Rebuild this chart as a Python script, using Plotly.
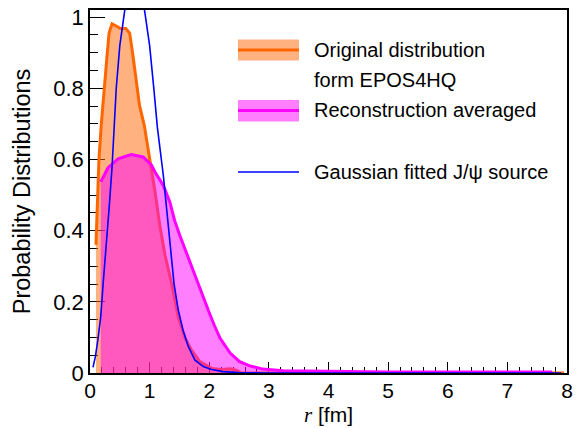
import plotly.graph_objects as go

# Original distribution from EPOS4HQ
r_orig = [0.10, 0.12, 0.15, 0.19, 0.235, 0.285, 0.32, 0.37, 0.44, 0.51, 0.60, 0.665, 0.72, 0.78, 0.83,
          0.91, 1.005, 1.09, 1.17, 1.26, 1.37, 1.48, 1.59, 1.70, 1.84, 2.04, 2.20, 2.35, 2.45, 2.55, 7.95]
p_orig = [0.36, 0.45, 0.60, 0.70, 0.80, 0.89, 0.955, 0.981, 0.975, 0.968, 0.968, 0.955, 0.892, 0.817, 0.752,
          0.696, 0.60, 0.51, 0.415, 0.33, 0.25, 0.158, 0.10, 0.065, 0.032, 0.013, 0.010, 0.012, 0.008, 0.0, 0.0]

# Reconstruction averaged
r_reco = [0.18, 0.30, 0.47, 0.69, 0.89, 1.03, 1.09, 1.23, 1.34, 1.42, 1.51, 1.59, 1.68, 1.79, 1.93,
          2.01, 2.09, 2.18, 2.35, 2.51, 2.68, 2.90, 3.24, 3.68, 4.0, 5.0, 6.0, 7.0, 7.75]
p_reco = [0.537, 0.576, 0.602, 0.614, 0.607, 0.585, 0.565, 0.527, 0.48, 0.428, 0.385, 0.35, 0.305, 0.258, 0.20,
          0.165, 0.132, 0.098, 0.056, 0.032, 0.020, 0.011, 0.006, 0.005, 0.004, 0.003, 0.003, 0.003, 0.003]

# Gaussian fitted J/psi source
r_gaus = [0.05, 0.09, 0.13, 0.18, 0.22, 0.27, 0.32, 0.37, 0.41, 0.44, 0.50, 0.58, 0.65, 0.75, 0.83, 0.92,
          1.00, 1.07, 1.13, 1.23, 1.30, 1.36, 1.41, 1.48, 1.56, 1.65, 1.76, 1.90, 2.04, 2.23, 2.50, 3.0, 7.9]
p_gaus = [0.016, 0.046, 0.09, 0.158, 0.25, 0.345, 0.462, 0.579, 0.696, 0.80, 0.92, 1.03, 1.10, 1.14, 1.10, 1.013,
          0.92, 0.80, 0.69, 0.555, 0.443, 0.345, 0.25, 0.177, 0.12, 0.074, 0.036, 0.018, 0.010, 0.004, 0.001, 0.0, 0.0]

x_ticks = [0, 1, 2, 3, 4, 5, 6, 7, 8]
y_ticks = [0, 0.2, 0.4, 0.6, 0.8, 1.0]
y_tick_text = ["0", "0.2", "0.4", "0.6", "0.8", "1"]

ORANGE = "rgb(255,102,0)"
ORANGE_FILL = "rgba(255,102,0,0.5)"
MAG = "rgb(255,0,255)"
MAG_FILL = "rgba(255,0,255,0.5)"
BLUE = "rgb(0,0,255)"
FONT = "Liberation Sans, Arial, Helvetica, sans-serif"

fig = go.Figure()
fig.add_trace(go.Scatter(x=r_orig, y=p_orig, mode="lines", fill="tozeroy",
                         fillcolor=ORANGE_FILL, line=dict(color=ORANGE, width=3),
                         showlegend=False))
fig.add_trace(go.Scatter(x=r_reco, y=p_reco, mode="lines", fill="tozeroy",
                         fillcolor=MAG_FILL, line=dict(color=MAG, width=3),
                         showlegend=False))
fig.add_trace(go.Scatter(x=r_gaus, y=p_gaus, mode="lines",
                         line=dict(color=BLUE, width=1.6), showlegend=False))

# Legend drawn manually (ROOT-style)
def px_x(p):
    return (p - 90) / 477.0

def px_y(p):
    return (373 - p) / 363.0

shapes = [
    dict(type="rect", xref="paper", yref="paper", x0=px_x(238), x1=px_x(299), y0=px_y(60.5), y1=px_y(39.5),
         fillcolor=ORANGE_FILL, line=dict(width=0)),
    dict(type="line", xref="paper", yref="paper", x0=px_x(238), x1=px_x(299), y0=px_y(50), y1=px_y(50),
         line=dict(color=ORANGE, width=3)),
    dict(type="rect", xref="paper", yref="paper", x0=px_x(238), x1=px_x(299), y0=px_y(121.5), y1=px_y(100),
         fillcolor=MAG_FILL, line=dict(width=0)),
    dict(type="line", xref="paper", yref="paper", x0=px_x(238), x1=px_x(299), y0=px_y(110.5), y1=px_y(110.5),
         line=dict(color=MAG, width=3)),
    dict(type="line", xref="paper", yref="paper", x0=px_x(238), x1=px_x(299), y0=px_y(172), y1=px_y(172),
         line=dict(color=BLUE, width=1.6)),
]
labels = [("Original distribution", 50), ("form EPOS4HQ", 80),
          ("Reconstruction averaged", 110.5), ("Gaussian fitted J/\u03c8 source", 172)]
annotations = [dict(text=t, xref="paper", yref="paper", x=px_x(312), y=px_y(yy), xanchor="left",
                    yanchor="middle", showarrow=False, font=dict(family=FONT, size=20, color="black"))
               for t, yy in labels]
# x-axis title placed as annotation just below the tick labels
annotations.append(dict(text='<span style="font-family:Liberation Serif"><i>r</i></span> [fm]',
                        xref="paper", yref="paper", x=0.5, y=px_y(428), xanchor="center",
                        yanchor="bottom", showarrow=False, borderpad=0,
                        font=dict(family=FONT, size=21, color="black")))

fig.update_layout(
    width=580, height=428,
    margin=dict(l=90, r=13, t=10, b=55),
    paper_bgcolor="white", plot_bgcolor="white",
    font=dict(family=FONT, size=22, color="black"),
    shapes=shapes, annotations=annotations,
)
fig.update_xaxes(range=[0, 8], tickvals=x_ticks, ticks="inside", ticklen=11, tickwidth=1,
                 tickcolor="black", showline=True, linecolor="black", linewidth=1.5, mirror=True,
                 showgrid=False, zeroline=False, layer="below traces",
                 tickfont=dict(size=21), ticklabelstandoff=-2,
                 minor=dict(ticks="inside", ticklen=6, dtick=0.2, tickcolor="black", showgrid=False),
                 automargin=False)
fig.update_yaxes(range=[0, 1.02], tickvals=y_ticks, ticktext=y_tick_text,
                 ticks="inside", ticklen=15, tickwidth=1,
                 tickcolor="black", showline=True, linecolor="black", linewidth=1.5, mirror=True,
                 showgrid=False, zeroline=False, layer="below traces",
                 tickfont=dict(size=22),
                 minor=dict(ticks="inside", ticklen=8, dtick=0.05, tickcolor="black", showgrid=False),
                 title=dict(text="Probability Distributions", font=dict(size=23.5), standoff=16),
                 automargin=False)

fig.write_html("out.html")
